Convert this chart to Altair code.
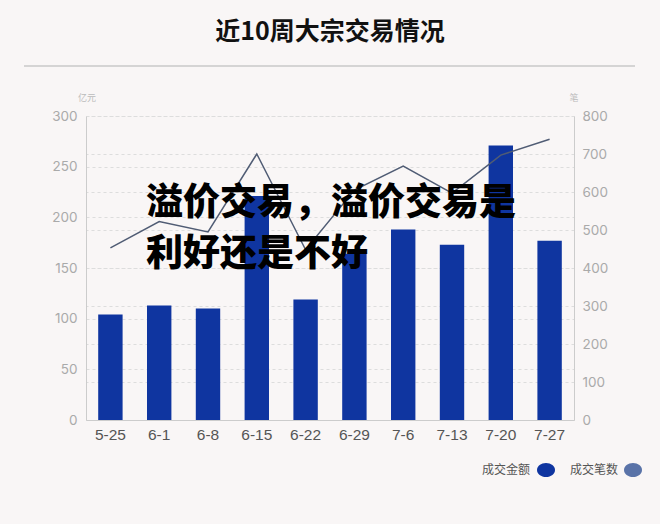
import altair as alt
import pandas as pd

weeks = ["5-25", "6-1", "6-8", "6-15", "6-22", "6-29", "7-6", "7-13", "7-20", "7-27"]
amount = [104, 113, 110, 221, 119, 164, 188, 173, 271, 177]   # 成交金额 (亿元)
count = [453, 522, 495, 700, 448, 605, 668, 597, 697, 739]    # 成交笔数 (笔)

title_text = "近10周大宗交易情况"
overlay_lines = ["溢价交易，溢价交易是", "利好还是不好"]
legend_labels = ["成交金额", "成交笔数"]
legend_colors = ["#0f35a0", "#5a73a8"]

df = pd.DataFrame({"week": weeks, "amount": amount, "count": count})

W, H = 488, 304
FONT = "Noto Sans CJK SC"

xscale = alt.Scale(domain=weeks, paddingInner=0.5, paddingOuter=0.25)
xaxis = alt.Axis(title=None, labelAngle=0, labelColor="#555555", labelFontSize=15.5,
                 labelFont="Liberation Sans", labelPadding=7, ticks=False,
                 domainColor="#cccccc", grid=False)

bars = alt.Chart(df).mark_bar(color="#0f35a0").encode(
    x=alt.X("week:N", scale=xscale, axis=xaxis, sort=weeks),
    y=alt.Y("amount:Q", scale=alt.Scale(domain=[0, 300], nice=False),
            axis=alt.Axis(title=None, values=list(range(0, 301, 50)), orient="left",
                          labelColor="#aaaaaa", labelFontSize=13.5, labelFont="Inter",
                          labelPadding=9, ticks=False, domainColor="#cccccc",
                          grid=True, gridColor="#dddddd", gridDash=[3, 3])),
)

line = alt.Chart(df).mark_line(color="#505c74", strokeWidth=1.5).encode(
    x=alt.X("week:N", scale=xscale, sort=weeks),
    y=alt.Y("count:Q", scale=alt.Scale(domain=[0, 800], nice=False),
            axis=alt.Axis(title=None, values=list(range(0, 801, 100)), orient="right",
                          labelColor="#aaaaaa", labelFontSize=13.5, labelFont="Inter",
                          labelPadding=8, ticks=False, domainColor="#cccccc",
                          grid=True, gridColor="#dddddd", gridDash=[3, 3])),
)

one = pd.DataFrame({"a": [0]})

title = alt.Chart(one).mark_text(text=title_text, font=FONT, fontSize=25, fontWeight="bold",
                                 color="#111111", align="center", baseline="middle").encode(
    x=alt.value(W / 2), y=alt.value(-84))

sep = alt.Chart(one).mark_rule(color="#c8c8c8", strokeWidth=1.5).encode(
    x=alt.value(-62), x2=alt.value(549), y=alt.value(-50))

unit_l = alt.Chart(one).mark_text(text="亿元", font=FONT, fontSize=9, color="#bbbbbb",
                                  align="center", baseline="middle").encode(
    x=alt.value(1), y=alt.value(-18))
unit_r = alt.Chart(one).mark_text(text="笔", font=FONT, fontSize=9, color="#bbbbbb",
                                  align="center", baseline="middle").encode(
    x=alt.value(488), y=alt.value(-18))

ov1 = alt.Chart(one).mark_text(text=overlay_lines[0], font=FONT, fontSize=37, fontWeight=900,
                               color="#000000", align="left", baseline="middle").encode(
    x=alt.value(60), y=alt.value(88))
ov2 = alt.Chart(one).mark_text(text=overlay_lines[1], font=FONT, fontSize=37, fontWeight=900,
                               color="#000000", align="left", baseline="middle").encode(
    x=alt.value(60), y=alt.value(139))

ellipse = "M-1,0 A1,0.78 0 1,1 1,0 A1,0.78 0 1,1 -1,0 Z"
leg = []
for lab, col, tx, sx in zip(legend_labels, legend_colors, [444, 532], [460, 547]):
    leg.append(alt.Chart(one).mark_text(text=lab, font=FONT, fontSize=12, color="#555555",
                                        align="right", baseline="middle").encode(
        x=alt.value(tx), y=alt.value(354)))
    leg.append(alt.Chart(one).mark_point(shape=ellipse, filled=True, color=col, opacity=1,
                                         size=324).encode(
        x=alt.value(sx), y=alt.value(354)))

chart = alt.layer(bars, line, title, sep, unit_l, unit_r, ov1, ov2, *leg).resolve_scale(
    y="independent"
).properties(
    width=W, height=H,
    autosize=alt.AutoSizeParams(type="none"),
    padding={"left": 86, "top": 116, "right": 86, "bottom": 104},
    background="#f9f6f6",
).configure_view(stroke=None)

chart.save("out.html", embed_options={"renderer": "svg", "actions": False})
